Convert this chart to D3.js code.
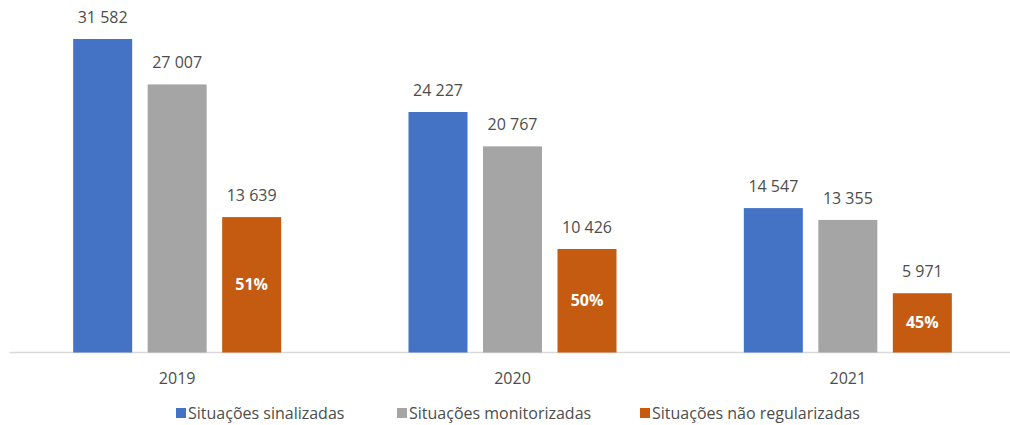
<!DOCTYPE html>
<html>
<head>
<meta charset="utf-8">
<script src="https://cdn.jsdelivr.net/npm/d3@7"></script>
<style>
  html, body { margin: 0; padding: 0; background: #fff; }
  svg { display: block; font-family: "Open Sans", sans-serif; }
</style>
</head>
<body>
<svg id="chart" width="1010" height="425"></svg>
<script>
const categories = ["2019", "2020", "2021"];
const seriesNames = ["Situações sinalizadas", "Situações monitorizadas", "Situações não regularizadas"];
const sinalizadas = [31582, 24227, 14547];
const monitorizadas = [27007, 20767, 13355];
const naoRegularizadas = [13639, 10426, 5971];
const percentLabels = ["51%", "50%", "45%"];
const colors = ["#4472C4", "#A5A5A5", "#C55A11"];

const series = [sinalizadas, monitorizadas, naoRegularizadas];
const svg = d3.select("#chart");
const baseline = 352.5;
const x0 = d3.scaleBand().domain(categories).range([9.5, 1015.5]).paddingInner(0).paddingOuter(0);
const y = d3.scaleLinear().domain([0, 31582]).range([baseline, 39]);
const barW = 59, step = 74.5;
const textColor = "#4d4d4d";

const fmt = v => d3.format(",")(v).replace(/,/g, " ");

// axis line
svg.append("line").attr("x1", 9.5).attr("x2", 1015.5)
  .attr("y1", baseline).attr("y2", baseline)
  .attr("stroke", "#D9D9D9").attr("stroke-width", 1.5);

categories.forEach((c, i) => {
  const cx = x0(c) + x0.bandwidth() / 2;
  series.forEach((s, j) => {
    const bx = cx + (j - 1) * step - barW / 2;
    const v = s[i];
    svg.append("rect").attr("x", bx).attr("y", y(v))
      .attr("width", barW).attr("height", baseline - y(v))
      .attr("fill", colors[j]);
    svg.append("text").attr("x", bx + barW / 2).attr("y", y(v) - 16)
      .attr("text-anchor", "middle").attr("font-size", 16).attr("fill", textColor)
      .text(fmt(v));
    if (j === 2) {
      svg.append("text").attr("x", bx + barW / 2)
        .attr("y", (y(v) + baseline) / 2 + 5)
        .attr("text-anchor", "middle").attr("font-size", 16).attr("font-weight", "bold")
        .attr("fill", "#fff").text(percentLabels[i]);
    }
  });
  svg.append("text").attr("x", cx).attr("y", 384)
    .attr("text-anchor", "middle").attr("font-size", 16).attr("fill", textColor).text(c);
});

// legend
const legendX = [176, 397, 640];
seriesNames.forEach((n, j) => {
  svg.append("rect").attr("x", legendX[j]).attr("y", 408).attr("width", 10).attr("height", 10).attr("fill", colors[j]);
  svg.append("text").attr("x", legendX[j] + 12).attr("y", 419)
    .attr("font-size", 16).attr("fill", textColor).text(n);
});
</script>
</body>
</html>
